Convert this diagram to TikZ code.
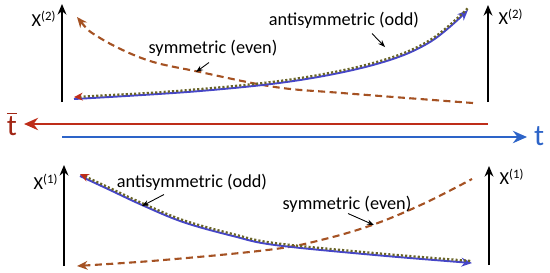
\documentclass[tikz,border=0pt]{standalone}
\usepackage{fontspec}
\setmainfont{Carlito}
\usetikzlibrary{arrows.meta}
\definecolor{evenbrown}{RGB}{165,82,35}
\definecolor{oddblue}{RGB}{70,70,200}
\definecolor{dotolive}{RGB}{105,100,40}
\definecolor{tbarred}{RGB}{190,45,25}
\definecolor{tblue}{RGB}{45,100,200}

\begin{document}
\begin{tikzpicture}[x=0.02cm,y=-0.02cm,>=Stealth,
  axis/.style={->,line width=1.4pt,>={Stealth[length=6pt,width=5pt]}},
  taxis/.style={->,line width=1.4pt,>={Stealth[length=8pt,width=7pt]}},
  even/.style={draw=evenbrown,line width=1.2pt,dash pattern=on 4pt off 2.5pt,>={Stealth[length=6pt,width=5pt]}},
  odd/.style={draw=oddblue,line width=1.1pt,>={Stealth[length=6pt,width=5pt]}},
  oddpts/.style={draw=dotolive,line width=1.3pt,dash pattern=on 1.2pt off 1.2pt,yshift=1.1pt,
    arrows={Stealth[length=5pt,width=4.5pt,color=tbarred]-}},
  lbl/.style={font=\fontsize{10.4}{12}\selectfont,inner sep=0pt},
  tlbl/.style={font=\fontsize{17}{20}\selectfont,inner sep=0pt},
  pointer/.style={->,line width=0.5pt,>={Stealth[length=4pt,width=3pt]}}]
\useasboundingbox (0,0) rectangle (550,272);

% axes
\coordinate (tl0) at (62,102); \coordinate (tl1) at (62,4);
\coordinate (tr0) at (488,102); \coordinate (tr1) at (488,5);
\coordinate (bl0) at (64,266); \coordinate (bl1) at (64,165);
\coordinate (br0) at (489,265); \coordinate (br1) at (489,166);
\coordinate (tb0) at (488,124); \coordinate (tb1) at (24,124);
\coordinate (tt0) at (62,137); \coordinate (tt1) at (527,137);
\foreach \a/\b in {tl0/tl1,tr0/tr1,bl0/bl1,br0/br1} \draw[axis] (\a) -- (\b);
\draw[taxis,tbarred] (tb0) -- (tb1);
\draw[taxis,tblue] (tt0) -- (tt1);

\node[lbl] (xtl) at (44,19) {X\textsuperscript{(2)}};
\node[lbl] (xtr) at (511,17) {X\textsuperscript{(2)}};
\node[lbl] (xbl) at (46,182) {X\textsuperscript{(1)}};
\node[lbl] (xbr) at (512,177) {X\textsuperscript{(1)}};
\node[tlbl,text=tbarred!85!black] (tbar) at (12,124) {$\overline{\mbox{t}}$};
\node[tlbl,text=tblue] (t) at (539,136) {t};

% upper panel
\draw[even,<-] plot[smooth,tension=0.6] coordinates {(77,17) (100,38) (147,60) (200,72) (275,87) (342,93) (473,103)};
\draw[odd,->] plot[smooth,tension=0.6] coordinates {(74,99) (200,91) (300,80) (380,63) (430,42) (468,10)};
\draw[oddpts] plot[smooth,tension=0.6] coordinates {(74,99) (200,91) (300,80) (380,63) (430,42) (468,10)};

% lower panel
\draw[even,<-] plot[smooth,tension=0.6] coordinates {(77,266) (175,259) (275,249) (325,239) (375,224) (425,203) (472,179)};
\draw[odd,->] plot[smooth,tension=0.6] coordinates {(80,176) (110,190) (142,205) (183,222) (233,236) (275,245) (375,255) (472,263)};
\draw[oddpts] plot[smooth,tension=0.6] coordinates {(80,176) (110,190) (142,205) (183,222) (233,236) (275,245) (375,255) (472,263)};

% labels and pointers
\node[lbl] (oddtop) at (344,20) {antisymmetric (odd)};
\node[lbl] (eventop) at (213,48) {symmetric (even)};
\node[lbl] (oddbot) at (192,182) {antisymmetric (odd)};
\node[lbl] (evenbot) at (347,204) {symmetric (even)};
\coordinate (oddtoptip) at (385,47);
\coordinate (eventoptip) at (196,72);
\coordinate (oddbottip) at (142,206);
\coordinate (evenbottip) at (374,225);
\draw[pointer] (oddtop.south) ++(28,5) -- (oddtoptip);
\draw[pointer] (eventop.south) ++(-4,6) -- (eventoptip);
\draw[pointer] (oddbot.south) ++(-28,4) -- (oddbottip);
\draw[pointer] (evenbot.south) ++(1,1) -- (evenbottip);
\end{tikzpicture}
\end{document}
